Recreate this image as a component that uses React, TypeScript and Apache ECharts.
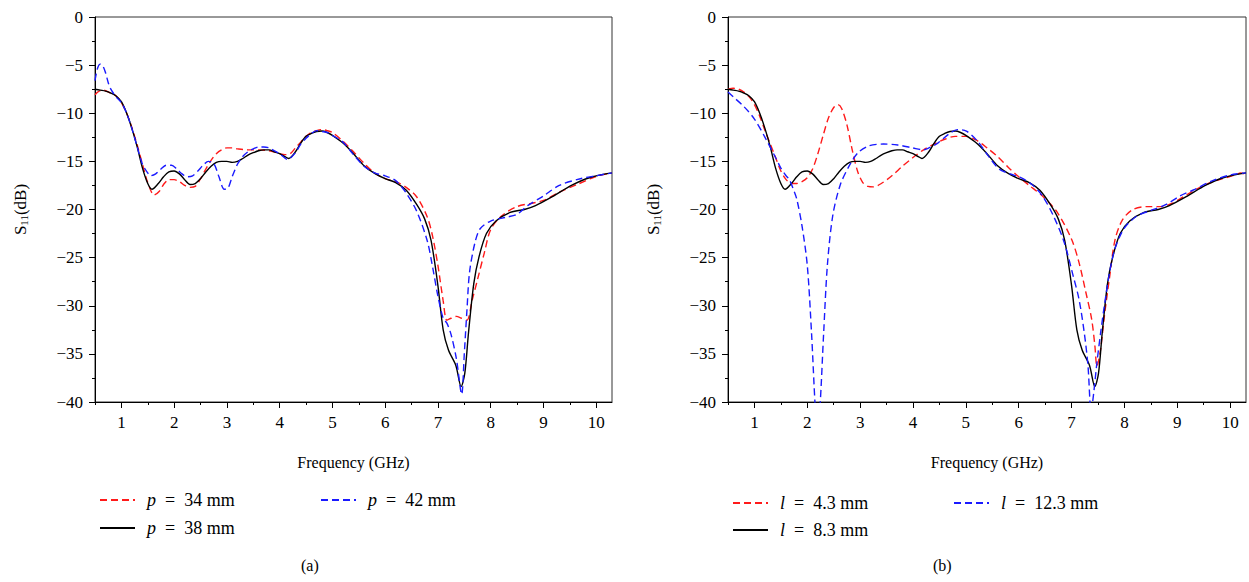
import React, { useEffect, useRef } from "react";
import * as echarts from "echarts";

// ---------- data ----------
const freqTicks = [1, 2, 3, 4, 5, 6, 7, 8, 9, 10];
const freqMinorTicks = [0.5, 1.5, 2.5, 3.5, 4.5, 5.5, 6.5, 7.5, 8.5, 9.5];

// shared reference curve (p = 38 mm, l = 8.3 mm)
const ref38: [number, number][] = [
  [0.5, -7.5], [0.6, -7.6], [0.7, -7.7], [0.8, -7.9], [0.9, -8.2], [1.0, -8.8], [1.1, -10.0], [1.2, -11.6],
  [1.3, -13.5], [1.4, -15.7], [1.5, -17.3], [1.58, -17.9], [1.7, -17.3], [1.8, -16.6], [1.9, -16.1], [2.0, -16.0],
  [2.1, -16.3], [2.2, -16.9], [2.3, -17.4], [2.4, -17.3], [2.5, -16.8], [2.6, -16.1], [2.7, -15.5], [2.8, -15.1],
  [2.9, -15.0], [3.0, -15.0], [3.1, -15.1], [3.2, -15.0], [3.3, -14.7], [3.4, -14.35], [3.5, -14.1], [3.6, -13.9],
  [3.7, -13.8], [3.8, -13.8], [3.9, -14.0], [4.0, -14.2], [4.1, -14.5], [4.17, -14.7], [4.3, -14.0], [4.4, -13.1],
  [4.5, -12.4], [4.6, -12.1], [4.7, -11.9], [4.8, -11.85], [4.9, -12.0], [5.0, -12.3], [5.2, -13.1], [5.4, -14.2],
  [5.6, -15.45], [5.8, -16.25], [6.0, -16.8], [6.2, -17.2], [6.4, -18.0], [6.6, -19.5], [6.75, -21.0], [6.87, -23.2],
  [7.0, -27.9], [7.1, -32.5], [7.2, -34.6], [7.34, -36.2], [7.44, -38.4], [7.51, -37.0], [7.58, -32.8], [7.68, -27.7],
  [7.78, -24.9], [7.92, -22.5], [8.1, -21.2], [8.37, -20.3], [8.64, -20.0], [8.85, -19.6], [9.19, -18.6], [9.53, -17.5],
  [9.87, -16.7], [10.3, -16.2],
];

const p34: [number, number][] = [
  [0.5, -8.1], [0.55, -7.8], [0.65, -7.6], [0.8, -7.9], [0.9, -8.2], [1.0, -8.9], [1.1, -10.0], [1.2, -11.5],
  [1.3, -13.3], [1.4, -15.3], [1.5, -17.2], [1.62, -18.5], [1.72, -18.1], [1.8, -17.4], [1.9, -16.9], [2.0, -16.9],
  [2.1, -17.1], [2.2, -17.5], [2.3, -17.7], [2.4, -17.6], [2.5, -16.8], [2.6, -15.8], [2.7, -14.9], [2.8, -14.2],
  [2.9, -13.8], [3.0, -13.6], [3.1, -13.6], [3.2, -13.7], [3.4, -13.8], [3.6, -13.8], [3.8, -13.9], [4.0, -14.2],
  [4.1, -14.3], [4.2, -14.2], [4.3, -13.6], [4.4, -13.0], [4.5, -12.4], [4.6, -12.0], [4.7, -11.8], [4.8, -11.7],
  [4.9, -11.8], [5.0, -12.0], [5.2, -12.9], [5.4, -14.0], [5.6, -15.2], [5.8, -16.2], [6.0, -16.8], [6.2, -17.1],
  [6.4, -17.7], [6.6, -18.7], [6.8, -20.8], [6.9, -22.8], [7.0, -25.8], [7.1, -29.5], [7.17, -31.5], [7.25, -31.3],
  [7.35, -31.1], [7.45, -31.3], [7.55, -31.5], [7.65, -29.4], [7.75, -27.3], [7.88, -24.5], [8.0, -22.1], [8.2, -20.7],
  [8.5, -19.7], [8.83, -19.3], [9.03, -19.0], [9.3, -18.2], [9.64, -17.4], [9.98, -16.6], [10.3, -16.2],
];

const p42: [number, number][] = [
  [0.5, -6.6], [0.55, -5.3], [0.6, -4.9], [0.65, -5.1], [0.7, -5.8], [0.75, -6.8], [0.8, -7.5], [0.9, -8.3],
  [1.0, -8.9], [1.1, -10.0], [1.2, -11.6], [1.3, -13.5], [1.4, -15.3], [1.5, -16.2], [1.55, -16.5], [1.65, -16.3],
  [1.75, -15.8], [1.85, -15.4], [1.95, -15.4], [2.05, -15.8], [2.15, -16.3], [2.25, -16.6], [2.35, -16.5], [2.45, -16.0],
  [2.55, -15.4], [2.65, -15.0], [2.75, -15.2], [2.85, -16.6], [2.95, -17.9], [3.02, -17.8], [3.1, -16.6], [3.2, -15.3],
  [3.3, -14.5], [3.4, -14.0], [3.5, -13.7], [3.6, -13.5], [3.7, -13.5], [3.8, -13.6], [3.9, -13.9], [4.0, -14.2],
  [4.15, -14.8], [4.3, -14.1], [4.4, -13.2], [4.5, -12.6], [4.6, -12.1], [4.7, -11.8], [4.8, -11.9], [4.9, -12.0],
  [5.0, -12.3], [5.2, -13.0], [5.4, -14.3], [5.6, -15.5], [5.8, -16.2], [6.0, -16.5], [6.2, -17.0], [6.4, -18.3],
  [6.6, -20.2], [6.8, -23.3], [6.9, -26.0], [7.0, -29.0], [7.1, -31.3], [7.17, -31.8], [7.25, -33.0], [7.35, -35.5],
  [7.45, -39.2], [7.5, -35.0], [7.55, -30.5], [7.6, -26.5], [7.7, -23.5], [7.8, -22.0], [8.0, -21.2], [8.3, -20.8],
  [8.5, -20.5], [8.7, -19.6], [9.0, -18.6], [9.3, -17.5], [9.7, -16.8], [10.0, -16.5], [10.3, -16.2],
];

const l43: [number, number][] = [
  [0.5, -7.5], [0.6, -7.4], [0.7, -7.5], [0.8, -7.8], [0.9, -8.3], [1.0, -9.1], [1.1, -10.3], [1.2, -11.8],
  [1.3, -13.2], [1.4, -14.6], [1.5, -16.0], [1.6, -16.9], [1.7, -17.3], [1.8, -17.3], [1.9, -17.1], [2.0, -16.7],
  [2.1, -15.8], [2.2, -14.2], [2.3, -12.3], [2.4, -10.5], [2.5, -9.4], [2.58, -9.1], [2.65, -9.5], [2.75, -11.2],
  [2.85, -13.8], [2.95, -16.0], [3.05, -17.2], [3.15, -17.6], [3.25, -17.65], [3.4, -17.3], [3.6, -16.5], [3.8, -15.5],
  [4.0, -14.6], [4.2, -13.8], [4.4, -13.2], [4.6, -12.7], [4.8, -12.4], [5.0, -12.4], [5.2, -12.8], [5.4, -13.6],
  [5.6, -14.5], [5.8, -15.6], [6.0, -16.6], [6.2, -17.5], [6.45, -18.6], [6.73, -20.3], [7.0, -23.1], [7.14, -25.5],
  [7.27, -28.6], [7.38, -31.4], [7.44, -34.1], [7.48, -36.3], [7.55, -34.5], [7.62, -31.1], [7.72, -27.0], [7.82, -23.2],
  [7.96, -21.1], [8.16, -20.0], [8.44, -19.7], [8.71, -19.7], [8.92, -19.3], [9.2, -18.4], [9.5, -17.5], [9.8, -16.9],
  [10.1, -16.4], [10.2, -16.2], [10.3, -16.4],
];

const l123: [number, number][] = [
  [0.5, -7.8], [0.6, -8.3], [0.8, -9.3], [1.0, -10.6], [1.2, -12.5], [1.4, -14.6], [1.5, -15.7], [1.6, -16.5],
  [1.66, -16.9], [1.73, -17.8], [1.8, -18.9], [1.9, -21.7], [2.0, -25.8], [2.08, -32.8], [2.15, -40.5], [2.19, -43.0],
  [2.24, -40.5], [2.31, -32.8], [2.38, -25.8], [2.48, -20.7], [2.62, -17.5], [2.79, -15.5], [2.96, -14.1], [3.16, -13.4],
  [3.44, -13.2], [3.71, -13.3], [3.99, -13.6], [4.2, -13.8], [4.3, -13.6], [4.47, -13.1], [4.67, -12.2], [4.84, -11.7],
  [5.01, -11.85], [5.22, -12.9], [5.42, -14.4], [5.63, -15.8], [5.84, -16.3], [6.04, -16.7], [6.25, -17.4], [6.45, -18.6],
  [6.66, -20.7], [6.86, -23.4], [7.03, -26.9], [7.14, -29.3], [7.24, -32.8], [7.31, -36.2], [7.37, -41.0], [7.42, -39.0],
  [7.48, -35.9], [7.55, -32.8], [7.62, -30.0], [7.72, -26.5], [7.82, -24.1], [7.99, -22.0], [8.23, -20.7], [8.5, -20.1],
  [8.78, -19.5], [9.05, -18.6], [9.33, -17.9], [9.67, -17.0], [10.01, -16.4], [10.3, -16.2],
];

const legendNamesA = ["p = 34 mm", "p = 38 mm", "p = 42 mm"];
const legendNamesB = ["l = 4.3 mm", "l = 8.3 mm", "l = 12.3 mm"];

// ---------- styling ----------
const FONT = "Liberation Serif, Times New Roman, serif";
const RED = "#ff1a1a";
const BLUE = "#1a1aff";
const BLACK = "#000000";
const DASH = [7, 4];

function fmtY(v: number) {
  return v < 0 ? "\u2212" + Math.abs(v) : String(v);
}

function mainX(gridIndex: number) {
  return {
    type: "value",
    gridIndex,
    min: 0.5,
    max: 10.3,
    position: "bottom",
    axisLine: { show: true, onZero: false, lineStyle: { color: "#000", width: 1 } },
    axisTick: { show: true, inside: false, length: 6, customValues: freqTicks, lineStyle: { color: "#000" } },
    axisLabel: {
      customValues: freqTicks,
      margin: 12,
      fontSize: 17,
      color: "#000",
      fontFamily: FONT,
    },
    splitLine: { show: false },
    name: "Frequency (GHz)",
    nameLocation: "middle",
    nameGap: 52,
    nameTextStyle: { fontSize: 16, color: "#000", fontFamily: FONT },
  };
}

function minorX(gridIndex: number) {
  return {
    type: "value",
    gridIndex,
    min: 0.5,
    max: 10.3,
    position: "bottom",
    axisLine: { show: false, onZero: false },
    axisTick: { show: true, inside: false, length: 3, customValues: freqMinorTicks, lineStyle: { color: "#000" } },
    axisLabel: { show: false },
    splitLine: { show: false },
  };
}

function mainY(gridIndex: number) {
  return {
    type: "value",
    gridIndex,
    min: -40,
    max: 0,
    interval: 5,
    axisLine: { show: true, onZero: false, lineStyle: { color: "#000", width: 1 } },
    axisTick: { show: true, inside: false, length: 6, lineStyle: { color: "#000" } },
    minorTick: { show: true, splitNumber: 2, length: 3, lineStyle: { color: "#000" } },
    axisLabel: { formatter: fmtY, margin: 12, fontSize: 17, color: "#000", fontFamily: FONT },
    splitLine: { show: false },
    minorSplitLine: { show: false },
    name: "S{sub|11}(dB)",
    nameLocation: "middle",
    nameGap: 66,
    nameRotate: 90,
    nameTextStyle: {
      fontSize: 17,
      color: "#000",
      fontFamily: FONT,
      rich: { sub: { fontSize: 11, color: "#000", fontFamily: FONT, verticalAlign: "bottom", padding: [6, 0, 0, 0] } },
    },
  };
}

function lineSeries(name: string, data: [number, number][], color: string, dashed: boolean, xi: number, yi: number) {
  return {
    type: "line",
    name,
    data,
    xAxisIndex: xi,
    yAxisIndex: yi,
    symbol: "none",
    showSymbol: false,
    smooth: 0.3,
    clip: true,
    lineStyle: { color, width: 1.4, type: dashed ? DASH : "solid" },
    itemStyle: { color },
    emphasis: { disabled: true },
  };
}

function legendItem(name: string, left: number, top: number) {
  return {
    data: [name],
    left,
    top,
    itemWidth: 35,
    itemHeight: 12,
    selectedMode: false,
    itemStyle: { opacity: 0 },
    formatter: (n: string) => "{i|" + n.charAt(0) + "}  =  " + n.slice(4),
    textStyle: {
      fontSize: 18,
      color: "#000",
      fontFamily: FONT,
      padding: [0, 0, 0, 7],
      rich: { i: { fontStyle: "italic", fontSize: 18, color: "#000", fontFamily: FONT } },
    },
  };
}

export default function App() {
  const ref = useRef<HTMLDivElement>(null);

  useEffect(() => {
    document.body.style.margin = "0";
    if (!ref.current) return;
    const chart = echarts.init(ref.current, undefined, { renderer: "svg" });
    chart.setOption({
      animation: false,
      backgroundColor: "#ffffff",
      textStyle: { fontFamily: FONT },
      grid: [
        { left: 95, top: 17, width: 517, height: 385, show: true, borderColor: "#333", borderWidth: 1, backgroundColor: "transparent" },
        { left: 728, top: 17, width: 518, height: 385, show: true, borderColor: "#333", borderWidth: 1, backgroundColor: "transparent" },
      ],
      xAxis: [mainX(0), minorX(0), mainX(1), minorX(1)],
      yAxis: [mainY(0), mainY(1)],
      legend: [
        legendItem(legendNamesA[0], 94, 486),
        legendItem(legendNamesA[2], 315, 486),
        legendItem(legendNamesA[1], 94, 514),
        legendItem(legendNamesB[0], 727, 489),
        legendItem(legendNamesB[2], 948, 489),
        legendItem(legendNamesB[1], 727, 516),
      ],
      series: [
        lineSeries(legendNamesA[0], p34, RED, true, 0, 0),
        lineSeries(legendNamesA[1], ref38, BLACK, false, 0, 0),
        lineSeries(legendNamesA[2], p42, BLUE, true, 0, 0),
        lineSeries(legendNamesB[0], l43, RED, true, 2, 1),
        lineSeries(legendNamesB[1], ref38, BLACK, false, 2, 1),
        lineSeries(legendNamesB[2], l123, BLUE, true, 2, 1),
      ],
      graphic: [
        { type: "text", left: 301, top: 557, style: { text: "(a)", fontSize: 16, fill: "#000", fontFamily: FONT } },
        { type: "text", left: 933, top: 557, style: { text: "(b)", fontSize: 16, fill: "#000", fontFamily: FONT } },
      ],
    });
    return () => chart.dispose();
  }, []);

  return <div ref={ref} style={{ width: 1249, height: 582 }} />;
}
